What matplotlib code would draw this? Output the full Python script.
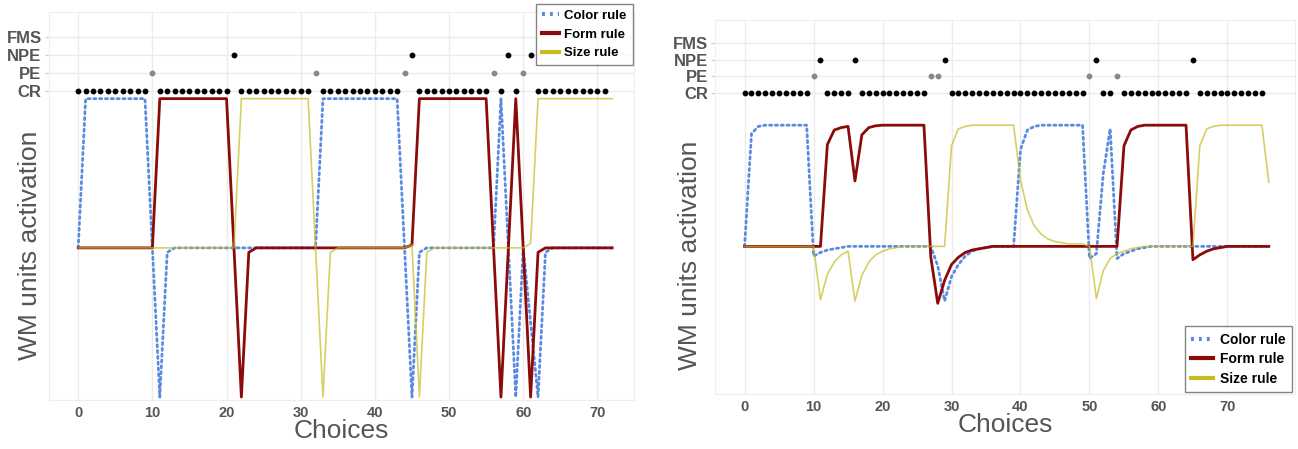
import matplotlib
matplotlib.use("Agg")
import matplotlib.pyplot as plt
from matplotlib.lines import Line2D

# ---- left panel (73 points, choices 0..72) ----
color_left = [0, 1, 1, 1, 1, 1, 1, 1, 1, 1,
              0, -1, -0.03, 0, 0, 0, 0, 0, 0, 0,
              0, 0, 0, 0, 0, 0, 0, 0, 0, 0,
              0, 0, 0, 1, 1, 1, 1, 1, 1, 1,
              1, 1, 1, 1, 0, -1, -0.03, 0, 0, 0,
              0, 0, 0, 0, 0, 0, 0, 1, 0, -1,
              0, -0.5, -1, -0.03, 0, 0, 0, 0, 0, 0,
              0, 0, 0]
form_left = [0, 0, 0, 0, 0, 0, 0, 0, 0, 0,
             0, 1, 1, 1, 1, 1, 1, 1, 1, 1,
             1, 0, -1, -0.03, 0, 0, 0, 0, 0, 0,
             0, 0, 0, 0, 0, 0, 0, 0, 0, 0,
             0, 0, 0, 0, 0, 0.02, 1, 1, 1, 1,
             1, 1, 1, 1, 1, 1, 0, -1, 0, 1,
             0, -1, -0.03, 0, 0, 0, 0, 0, 0, 0,
             0, 0, 0]
size_left = [0, 0, 0, 0, 0, 0, 0, 0, 0, 0,
             0, 0, 0, 0, 0, 0, 0, 0, 0, 0,
             0, 0, 1, 1, 1, 1, 1, 1, 1, 1,
             1, 1, 0, -1, -0.03, 0, 0, 0, 0, 0,
             0, 0, 0, 0, 0, 0.02, -1, -0.03, 0, 0,
             0, 0, 0, 0, 0, 0, 0, 0, 0, 0,
             0, 0.03, 1, 1, 1, 1, 1, 1, 1, 1,
             1, 1, 1]
cr_left = [0, 1, 2, 3, 4, 5, 6, 7, 8, 9,
           11, 12, 13, 14, 15, 16, 17, 18, 19, 20,
           22, 23, 24, 25, 26, 27, 28, 29, 30, 31,
           33, 34, 35, 36, 37, 38, 39, 40, 41, 42, 43,
           46, 47, 48, 49, 50, 51, 52, 53, 54, 55,
           57, 59,
           62, 63, 64, 65, 66, 67, 68, 69, 70, 71]
pe_left = [10, 32, 44, 56, 60]
npe_left = [21, 45, 58, 61]

# ---- right panel (77 points, choices 0..76) ----
color_right = [0, 0.93, 0.99, 1, 1, 1, 1, 1, 1, 1,
               -0.08, -0.05, -0.03, -0.02, -0.01, 0, 0, 0, 0, 0,
               0, 0, 0, 0, 0, 0, 0, 0, -0.16, -0.45,
               -0.25, -0.15, -0.08, -0.04, -0.02, -0.01, 0, 0, 0, 0,
               0.8, 0.96, 0.99, 1, 1, 1, 1, 1, 1, 1,
               -0.1, -0.06, 0.6, 0.97, -0.1, -0.06, -0.04, -0.02, -0.01, 0,
               0, 0, 0, 0, 0, 0, 0, 0, 0, 0,
               0, 0, 0, 0, 0, 0, 0]
form_right = [0, 0, 0, 0, 0, 0, 0, 0, 0, 0,
              0, 0, 0.84, 0.96, 0.98, 0.99, 0.54, 0.92, 0.98, 0.995,
              1, 1, 1, 1, 1, 1, 1, -0.09, -0.47, -0.28,
              -0.15, -0.09, -0.05, -0.03, -0.02, -0.01, 0, 0, 0, 0,
              0, 0, 0, 0, 0, 0, 0, 0, 0, 0,
              0, 0, 0, 0, 0, 0.83, 0.96, 0.99, 1, 1,
              1, 1, 1, 1, 1, -0.11, -0.07, -0.04, -0.02, -0.01,
              0, 0, 0, 0, 0, 0, 0]
size_right = [0, 0, 0, 0, 0, 0, 0, 0, 0, 0,
              0, -0.44, -0.23, -0.13, -0.07, -0.04, -0.45, -0.24, -0.13, -0.07,
              -0.04, -0.02, -0.01, 0, 0, 0, 0, 0, 0, 0,
              0.83, 0.97, 0.99, 1, 1, 1, 1, 1, 1, 1,
              0.55, 0.3, 0.17, 0.1, 0.06, 0.04, 0.03, 0.02, 0.02, 0.02,
              0, -0.43, -0.2, -0.1, -0.06, -0.04, -0.02, -0.01, 0, 0,
              0, 0, 0, 0, 0, 0, 0.83, 0.97, 0.99, 1,
              1, 1, 1, 1, 1, 1, 0.53]
cr_right = [0, 1, 2, 3, 4, 5, 6, 7, 8, 9,
            12, 13, 14, 15,
            17, 18, 19, 20, 21, 22, 23, 24, 25, 26,
            30, 31, 32, 33, 34, 35, 36, 37, 38, 39,
            40, 41, 42, 43, 44, 45, 46, 47, 48, 49,
            52, 53,
            55, 56, 57, 58, 59, 60, 61, 62, 63, 64,
            66, 67, 68, 69, 70, 71, 72, 73, 74, 75]
pe_right = [10, 27, 28, 50, 54]
npe_right = [11, 16, 29, 51, 65]

row_labels = ["CR", "PE", "NPE", "FMS"]

BLUE = "#5a8be0"
RED = "#8b0a0a"
YELLOW = "#c4bd22"
TXT = "#555555"
GRID = "#ebebeb"
FONT = ["Liberation Sans", "DejaVu Sans"]


def draw(ax, color, form, size, cr, pe, npe, rows, xlim, ylim, ylab_pos, xlab_y):
    x = list(range(len(color)))
    ax.plot(x, color, color=BLUE, lw=2.0, ls=(0, (0.8, 1.3)),
            dash_capstyle="round", zorder=3)
    ax.plot(x, form, color=RED, lw=2.0, zorder=4)
    ax.plot(x, size, color=YELLOW, lw=1.2, alpha=0.7, zorder=5)
    ax.plot(cr, [rows[0]] * len(cr), "o", color="black", ms=3.2, zorder=6)
    ax.plot(pe, [rows[1]] * len(pe), "o", color="#888888", ms=3.2, zorder=6)
    ax.plot(npe, [rows[2]] * len(npe), "o", color="black", ms=3.2, zorder=6)

    ax.set_xlim(*xlim)
    ax.set_ylim(*ylim)
    ax.set_xticks(range(0, 71, 10))
    ax.set_yticks(rows)
    ax.set_yticklabels(row_labels)
    for t in ax.get_xticklabels():
        t.set_fontweight("bold")
        t.set_family(FONT)
        t.set_fontsize(10.5)
    for t in ax.get_yticklabels():
        t.set_fontweight("bold")
        t.set_family(FONT)
        t.set_fontsize(12)
    ax.tick_params(axis="x", length=0, colors=TXT, pad=4)
    ax.tick_params(axis="y", length=3, color="#cccccc", colors=TXT, pad=2)
    ax.grid(True, color=GRID, lw=1.0, zorder=0)
    ax.set_axisbelow(True)
    for s in ax.spines.values():
        s.set_color("#eeeeee")
    ax.set_xlabel("Choices", fontsize=19, color=TXT, family=FONT, va="top")
    ax.xaxis.set_label_coords(0.5, xlab_y)
    ax.set_ylabel("WM units activation", fontsize=19, color=TXT, family=FONT,
                  va="center")
    ax.yaxis.set_label_coords(*ylab_pos)


fig = plt.figure(figsize=(12.98, 4.49), dpi=100)
ax1 = fig.add_axes([0.0374, 0.109, 0.4514, 0.864])
ax2 = fig.add_axes([0.5508, 0.122, 0.4469, 0.834])

draw(ax1, color_left, form_left, size_left, cr_left, pe_left, npe_left,
     [1.054, 1.174, 1.294, 1.414], (-4, 75), (-1.02, 1.58),
     (-0.032, 0.40), -0.048)
draw(ax2, color_right, form_right, size_right, cr_right, pe_right, npe_right,
     [1.262, 1.402, 1.541, 1.68], (-4.3, 79.8), (-1.22, 1.87),
     (-0.043, 0.372), -0.05)

handles = [Line2D([], [], color=BLUE, lw=3, ls=(0, (0.7, 1.2))),
           Line2D([], [], color=RED, lw=3),
           Line2D([], [], color=YELLOW, lw=3)]
names = ["Color rule", "Form rule", "Size rule"]
leg_font = {"family": FONT, "weight": "bold", "size": 9.5}
l1 = ax1.legend(handles, names, loc="upper right", bbox_to_anchor=(0.997, 1.022),
                borderaxespad=0, fancybox=False, edgecolor="#666666",
                prop=leg_font, handlelength=1.3, labelspacing=0.5,
                borderpad=0.45, handletextpad=0.4)
l2 = ax2.legend(handles, names, loc="lower right", bbox_to_anchor=(0.995, 0.006),
                borderaxespad=0, fancybox=False, edgecolor="#666666",
                prop={"family": FONT, "weight": "bold", "size": 10},
                handlelength=1.6, labelspacing=0.4,
                borderpad=0.45, handletextpad=0.5)
for lg in (l1, l2):
    lg.get_frame().set_linewidth(1.0)
    lg.set_zorder(10)

fig.savefig("out.png", dpi=100)
